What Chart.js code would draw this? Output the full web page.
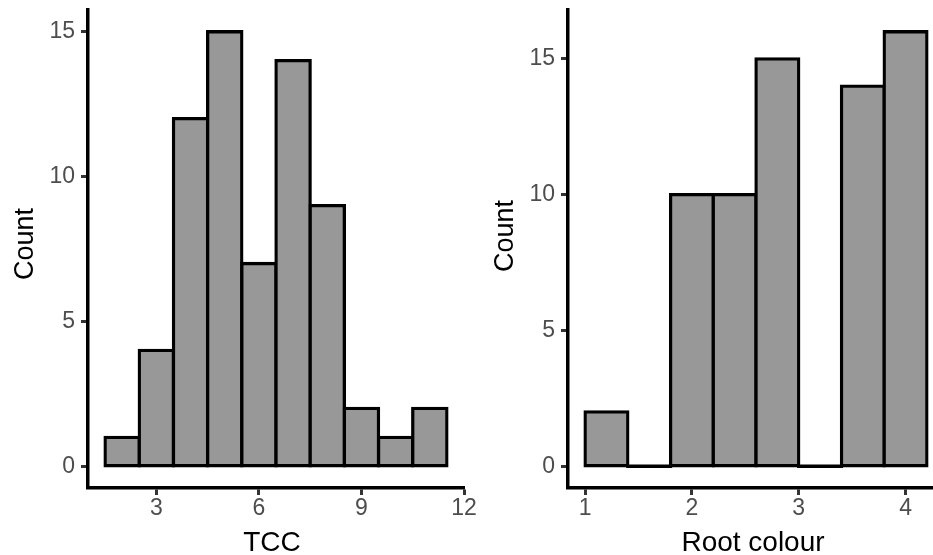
<!DOCTYPE html>
<html>
<head>
<meta charset="utf-8">
<script src="https://cdn.jsdelivr.net/npm/chart.js@4.4.1/dist/chart.umd.min.js"></script>
<style>
  html, body { margin: 0; padding: 0; background: #ffffff; }
  #wrap { position: relative; width: 933px; height: 555px; overflow: hidden; background: #ffffff; }
  .panel { position: absolute; top: 0; width: 480px; height: 555px; }
  #p1 { left: 0; }
  #p2 { left: 480px; }
</style>
</head>
<body>
<div id="wrap">
  <div class="panel" id="p1"><canvas id="tccChart"></canvas></div>
  <div class="panel" id="p2"><canvas id="rootChart"></canvas></div>
</div>
<script>
// TCC histogram: bin centres (bin width 1) and counts per bin
const tccBins = [2, 3, 4, 5, 6, 7, 8, 9, 10, 11];
const tccCounts = [1, 4, 12, 15, 7, 14, 9, 2, 1, 2];
const tccTicks = [3, 6, 9, 12];
const tccCountTicks = [0, 5, 10, 15];

// Root colour histogram: bin centres (bin width 0.4) and counts per bin
const rootBins = [1.2, 1.6, 2.0, 2.4, 2.8, 3.2, 3.6, 4.0];
const rootCounts = [2, 0, 10, 10, 15, 0, 14, 16];
const rootTicks = [1, 2, 3, 4];
const rootCountTicks = [0, 5, 10, 15];

const FONT = '"Liberation Sans", Arial, Helvetica, sans-serif';
const BAR_FILL = '#989898';
const BAR_EDGE = '#000000';
const EDGE_W = 3.3;

// Axis titles drawn around the plot panel
const axisCaptions = {
  id: 'axisCaptions',
  afterDraw(chart, args, opts) {
    const { ctx, chartArea: a } = chart;
    ctx.save();
    ctx.fillStyle = '#000000';
    ctx.textAlign = 'center';
    ctx.textBaseline = 'alphabetic';
    ctx.font = opts.xSize + 'px ' + FONT;
    ctx.fillText(opts.xText, (a.left + a.right) / 2 + opts.xShift, opts.xBaseline);
    ctx.font = opts.ySize + 'px ' + FONT;
    ctx.translate(opts.yBaseline, (a.top + a.bottom) / 2 + opts.yShift);
    ctx.rotate(-Math.PI / 2);
    ctx.fillText(opts.yText, 0, 0);
    ctx.restore();
  }
};

function histogram(canvasId, bins, counts, xTicks, yTicks, captions) {
  const w = bins[1] - bins[0];
  const lo = bins[0] - w / 2;
  const hi = bins[bins.length - 1] + w / 2;
  const xPad = (hi - lo) * 0.05;
  const yMax = Math.max(...counts);
  const yPad = yMax * 0.05;

  // empty bins are drawn as a flat edge along the zero line
  const emptyEdges = [];
  bins.forEach((b, i) => {
    if (counts[i] === 0) {
      emptyEdges.push({ x: b - w / 2, y: counts[i] }, { x: b + w / 2, y: counts[i] }, { x: b + w / 2, y: null });
    }
  });

  const tickFont = { family: FONT, size: 23 };
  const axisGrid = {
    display: true,
    drawOnChartArea: false,
    drawTicks: true,
    tickLength: 7,
    tickWidth: 3,
    tickColor: '#333333',
    offset: false
  };
  const axisBorder = { display: true, color: '#000000', width: 3.5 };

  return new Chart(document.getElementById(canvasId), {
    type: 'bar',
    data: {
      datasets: [{
        type: 'bar',
        data: bins.map((b, i) => ({ x: b, y: counts[i] })),
        backgroundColor: BAR_FILL,
        borderColor: BAR_EDGE,
        borderWidth: EDGE_W,
        borderSkipped: false,
        inflateAmount: EDGE_W / 2,
        barPercentage: 1,
        categoryPercentage: 1,
        order: 1
      }, {
        type: 'line',
        data: emptyEdges,
        borderColor: BAR_EDGE,
        borderWidth: EDGE_W,
        borderCapStyle: 'square',
        pointRadius: 0,
        spanGaps: false,
        fill: false,
        order: 2
      }]
    },
    options: {
      responsive: true,
      maintainAspectRatio: false,
      animation: false,
      devicePixelRatio: 1,
      layout: { padding: { top: 10, right: 16, bottom: 0, left: 0 } },
      plugins: {
        legend: { display: false },
        tooltip: { enabled: false },
        axisCaptions: captions
      },
      scales: {
        x: {
          type: 'linear',
          offset: false,
          min: lo - xPad,
          max: hi + xPad,
          afterBuildTicks: s => { s.ticks = xTicks.map(v => ({ value: v })); },
          afterFit: s => { s.height = 67; s.paddingLeft = 0; s.paddingRight = 0; },
          grid: axisGrid,
          border: axisBorder,
          ticks: { font: tickFont, color: '#4d4d4d', padding: 0, maxRotation: 0, autoSkip: false }
        },
        y: {
          type: 'linear',
          min: -yPad,
          max: yMax + yPad,
          afterBuildTicks: s => { s.ticks = yTicks.map(v => ({ value: v })); },
          afterFit: s => { s.width = 88; s.paddingTop = 0; s.paddingBottom = 0; },
          grid: axisGrid,
          border: axisBorder,
          ticks: { font: tickFont, color: '#4d4d4d', padding: 6, autoSkip: false }
        }
      }
    },
    plugins: [axisCaptions]
  });
}

histogram('tccChart', tccBins, tccCounts, tccTicks, tccCountTicks, {
  xText: 'TCC', yText: 'Count', xSize: 28, ySize: 27,
  xShift: -4, xBaseline: 551, yBaseline: 33, yShift: -5
});
histogram('rootChart', rootBins, rootCounts, rootTicks, rootCountTicks, {
  xText: 'Root colour', yText: 'Count', xSize: 28, ySize: 27,
  xShift: -3, xBaseline: 551, yBaseline: 33, yShift: -13
});
</script>
</body>
</html>
